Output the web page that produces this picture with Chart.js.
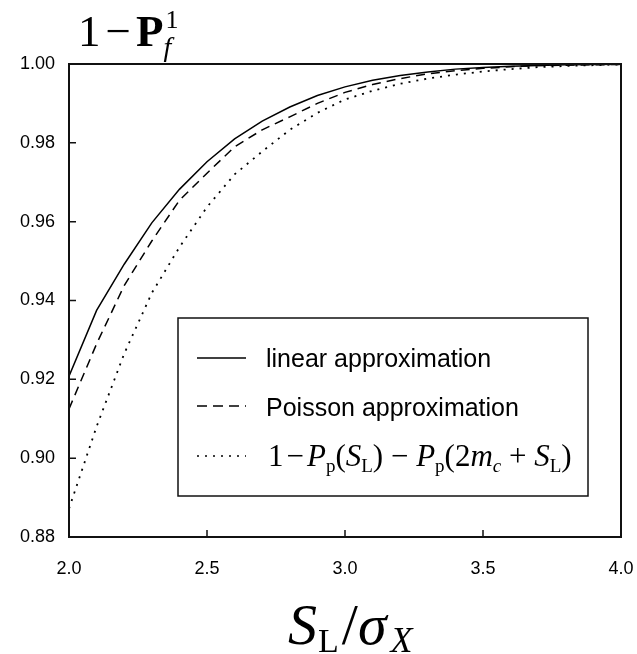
<!DOCTYPE html>
<html>
<head>
<meta charset="utf-8">
<script src="https://cdn.jsdelivr.net/npm/chart.js@4"></script>
<style>
  html, body { margin: 0; padding: 0; background: #fff; }
  #wrap { position: relative; width: 637px; height: 654px; }
  #chart { position: absolute; left: 0; top: 0; }
  #overlay { position: absolute; left: 0; top: 0; pointer-events: none; }
  .serif { font-family: "Liberation Serif", "Times New Roman", serif; }
  .sans { font-family: "Liberation Sans", Arial, sans-serif; }
</style>
</head>
<body>
<div id="wrap">
  <canvas id="chart" width="637" height="654"></canvas>
  <svg id="overlay" width="637" height="654" xmlns="http://www.w3.org/2000/svg">
    <!-- titulo do eixo y -->
    <text id="ytitle" class="serif" x="78" y="46" font-size="45" fill="#000">1<tspan dx="5">−</tspan><tspan dx="5" font-weight="bold">P</tspan></text>
    <text id="ysup" class="serif" font-size="26" fill="#000">1</text>
    <text id="ysub" class="serif" font-size="28" font-style="italic" fill="#000">f</text>

    <!-- titulo do eixo x -->
    <text class="serif" x="288" y="644" font-size="58" fill="#000"><tspan font-style="italic">S</tspan><tspan font-size="34" dy="8" dx="1">L</tspan><tspan dy="-8" dx="3">/</tspan><tspan font-style="italic">σ</tspan><tspan font-size="36" font-style="italic" dy="8" dx="4">X</tspan></text>

    <!-- legenda -->
    <rect x="178" y="318" width="410" height="178" fill="#fff" stroke="#111" stroke-width="1.5"/>
    <line x1="197" y1="358" x2="246" y2="358" stroke="#000" stroke-width="1.5"/>
    <line x1="197" y1="406" x2="246" y2="406" stroke="#000" stroke-width="1.5" stroke-dasharray="10 6"/>
    <line x1="197" y1="456" x2="246" y2="456" stroke="#000" stroke-width="1.5" stroke-dasharray="2 6"/>
    <text class="sans" x="266" y="367" font-size="25" fill="#000">linear approximation</text>
    <text class="sans" x="266" y="416" font-size="25" fill="#000">Poisson approximation</text>
    <text class="serif" x="268" y="466" font-size="31" fill="#000">1<tspan dx="3">−</tspan><tspan dx="3" font-style="italic">P</tspan><tspan font-size="19" dy="6">p</tspan><tspan dy="-6">(</tspan><tspan font-style="italic">S</tspan><tspan font-size="19" dy="6">L</tspan><tspan dy="-6">) − </tspan><tspan font-style="italic">P</tspan><tspan font-size="19" dy="6">p</tspan><tspan dy="-6">(2</tspan><tspan font-style="italic">m</tspan><tspan font-size="19" font-style="italic" dy="6">c</tspan><tspan dy="-6"> + </tspan><tspan font-style="italic">S</tspan><tspan font-size="19" dy="6">L</tspan><tspan dy="-6">)</tspan></text>
  </svg>
</div>
<script>
// Valores
const xValues = [2.0, 2.1, 2.2, 2.3, 2.4, 2.5, 2.6, 2.7, 2.8, 2.9, 3.0, 3.1, 3.2, 3.3, 3.4, 3.5, 3.6, 3.7, 3.8, 3.9, 4.0];
const linearApprox = [0.9208, 0.9375, 0.9492, 0.9597, 0.9682, 0.9752, 0.9810, 0.9855, 0.9891, 0.9920, 0.9942, 0.9959, 0.9971, 0.9980, 0.9987, 0.9991, 0.9994, 0.9996, 0.9998, 0.9999, 0.99995];
const poissonApprox = [0.9125, 0.9290, 0.9438, 0.9551, 0.9654, 0.9723, 0.9790, 0.9833, 0.9866, 0.9900, 0.9928, 0.9948, 0.9963, 0.9975, 0.9983, 0.9989, 0.9993, 0.9996, 0.9997, 0.9998, 0.9999];
const exactValues = [0.8872, 0.9080, 0.9265, 0.9419, 0.9535, 0.9637, 0.9720, 0.9778, 0.9833, 0.9876, 0.9910, 0.9932, 0.9950, 0.9963, 0.9973, 0.9981, 0.9987, 0.9992, 0.9995, 0.9997, 0.9999];
const xTicks = [2.0, 2.5, 3.0, 3.5, 4.0];
const yTicks = [0.88, 0.90, 0.92, 0.94, 0.96, 0.98, 1.00];

// posiciona sobrescrito/subscrito depois do P
const yt = document.getElementById('ytitle');
const bb = yt.getBBox();
const xEnd = bb.x + bb.width + 2;
const sup = document.getElementById('ysup');
sup.setAttribute('x', xEnd);
sup.setAttribute('y', 28);
const sub = document.getElementById('ysub');
sub.setAttribute('x', xEnd - 2);
sub.setAttribute('y', 56);

function pontos(vals) {
  return xValues.map((x, i) => ({ x: x, y: vals[i] }));
}

// moldura e ticks para dentro
const moldura = {
  id: 'moldura',
  afterDraw(chart) {
    const ctx = chart.ctx;
    const a = chart.chartArea;
    const sx = chart.scales.x;
    const sy = chart.scales.y;
    ctx.save();
    ctx.strokeStyle = '#111';
    ctx.lineWidth = 1.5;
    ctx.beginPath();
    yTicks.forEach((v) => {
      const py = sy.getPixelForValue(v);
      ctx.moveTo(a.left, py);
      ctx.lineTo(a.left + 7, py);
    });
    xTicks.forEach((v) => {
      const px = sx.getPixelForValue(v);
      ctx.moveTo(px, a.bottom);
      ctx.lineTo(px, a.bottom - 7);
    });
    ctx.stroke();
    ctx.lineWidth = 2;
    ctx.strokeRect(a.left, a.top, a.right - a.left, a.bottom - a.top);
    ctx.restore();
  }
};

const ctx = document.getElementById('chart').getContext('2d');
new Chart(ctx, {
  type: 'line',
  data: {
    datasets: [
      {
        label: 'linear approximation',
        data: pontos(linearApprox),
        borderColor: '#000',
        borderWidth: 1.5,
        pointRadius: 0,
        tension: 0
      },
      {
        label: 'Poisson approximation',
        data: pontos(poissonApprox),
        borderColor: '#000',
        borderWidth: 1.5,
        borderDash: [9, 6],
        pointRadius: 0,
        tension: 0
      },
      {
        label: '1 − Pp(SL) − Pp(2mc + SL)',
        data: pontos(exactValues),
        borderColor: '#000',
        borderWidth: 1.8,
        borderDash: [2, 6],
        pointRadius: 0,
        tension: 0
      }
    ]
  },
  options: {
    responsive: false,
    animation: false,
    layout: { padding: { top: 64, right: 16, left: 0, bottom: 0 } },
    plugins: {
      legend: { display: false },
      tooltip: { enabled: false }
    },
    scales: {
      x: {
        type: 'linear',
        min: 2,
        max: 4,
        afterFit: (s) => { s.height = 117; s.paddingLeft = 0; s.paddingRight = 0; },
        afterBuildTicks: (s) => { s.ticks = xTicks.map((v) => ({ value: v })); },
        grid: { display: false },
        border: { display: false },
        ticks: {
          padding: 13,
          color: '#000',
          font: { family: 'Liberation Sans, Arial, sans-serif', size: 18 },
          callback: (v) => Number(v).toFixed(1)
        }
      },
      y: {
        min: 0.88,
        max: 1.0,
        afterFit: (s) => { s.width = 69; s.paddingTop = 0; s.paddingBottom = 0; },
        afterBuildTicks: (s) => { s.ticks = yTicks.map((v) => ({ value: v })); },
        grid: { display: false },
        border: { display: false },
        ticks: {
          padding: 6,
          color: '#000',
          font: { family: 'Liberation Sans, Arial, sans-serif', size: 18 },
          callback: (v) => Number(v).toFixed(2)
        }
      }
    }
  },
  plugins: [moldura]
});
</script>
</body>
</html>
